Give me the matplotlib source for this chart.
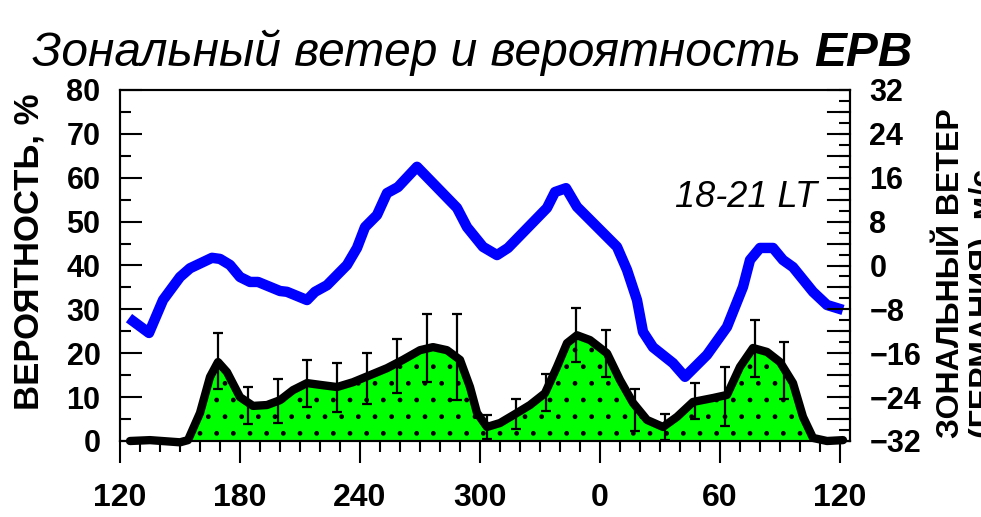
import numpy as np
import matplotlib
matplotlib.use("Agg")
import matplotlib.pyplot as plt
from matplotlib.ticker import MultipleLocator

plt.rcParams['font.family'] = ['Liberation Sans', 'DejaVu Sans']
plt.rcParams['hatch.linewidth'] = 1.0

# zonal wind (right axis), longitude in degrees (120..480 = 120E around to 120E)
wind_lon = [124.5, 134.5, 141.5, 150, 155, 166, 170, 175, 180, 185, 189, 200, 203.5,
            213.5, 217.5, 223.5, 233.5, 238.5, 242.5, 248.5, 253.5, 259, 268.5, 276.5,
            288.5, 293.5, 301.5, 308.5, 314, 333.5, 337.5, 343, 348.5, 368.5, 373.5,
            378.5, 381.5, 386.5, 396.5, 402.5, 413.5, 423.5, 431.5, 435, 440, 446.5,
            451.5, 456.5, 466.5, 473.5, 481.5]
wind = [-9.6, -12.3, -6.3, -2.1, -0.5, 1.4, 1.2, 0.1, -2.1, -3.0, -3.0, -4.65, -4.8,
        -6.3, -4.8, -3.6, 0.1, 3.2, 7.0, 9.2, 13.2, 14.3, 18.0, 15.0,
        10.5, 7.0, 3.4, 1.9, 3.2, 10.5, 13.4, 14.1, 10.7, 3.4, -0.8,
        -6.3, -12.1, -14.9, -17.8, -20.3, -16.3, -11.2, -3.9, 1.0, 3.2, 3.2,
        1.0, -0.3, -4.8, -7.2, -8.1]

# EPB probability (left axis, %)
prob_lon = [125, 135, 150, 154, 160, 165, 169, 173.5, 180, 186.5, 193.5, 200, 206.5,
            213.5, 220, 228.5, 236.5, 245, 253.5, 261.5, 270, 276.5, 283.5, 290, 295,
            298.5, 303.5, 310, 318.5, 325, 332.5, 338.5, 343.5, 348.5, 355, 363.5, 370,
            376.5, 383.5, 391.5, 398.5, 406.5, 416.5, 423.5, 430, 436.5, 443.5, 450,
            456.5, 461.5, 466.5, 473.5, 481.5]
prob = [0, 0.2, -0.3, 0.2, 6.4, 14.6, 18.0, 15.7, 10.0, 8.0, 8.2, 9.3, 11.6,
        13.2, 12.8, 12.3, 13.4, 15.0, 16.6, 18.5, 20.7, 21.4, 20.7, 18.5, 12.3,
        6.4, 3.2, 4.1, 6.4, 8.2, 10.9, 16.9, 22.3, 24.1, 23.0, 20.0, 13.9,
        8.7, 4.8, 3.2, 5.5, 8.9, 9.8, 10.5, 16.9, 21.2, 20.3, 18.0,
        13.2, 5.5, 0.7, 0, 0.2]

# error bars
err_lon = [169, 184, 199, 213.5, 228.5, 243.5, 258.5, 273.5, 288.5, 303.5,
           318, 333, 348, 363, 377.5, 392.5, 407.5, 422.5, 437.5, 452]
err_mid = [18.2, 8.1, 9.1, 13.1, 12.2, 14.2, 17.1, 21.2, 19.1, 3.2,
           6.2, 11.0, 24.1, 20.0, 7.1, 3.2, 9.1, 10.1, 21.1, 16.1]
err_size = [6.4, 4.2, 5.0, 5.4, 5.6, 5.8, 6.2, 7.8, 9.8, 2.7,
            3.4, 4.2, 6.1, 5.4, 4.8, 3.0, 4.1, 6.7, 6.5, 6.5]

xticks = [120, 180, 240, 300, 360, 420, 480]
xlabels = ['120', '180', '240', '300', '0', '60', '120']

fig = plt.figure(figsize=(9.81, 5.17), dpi=100)
ax = fig.add_axes([120/981, 76/517, 730/981, 351/517])
ax2 = ax.twinx()

# probability: green dotted fill, error bars, thick black curve
p = np.array(prob)
ax.fill_between(prob_lon, 0, np.clip(p, 0, None), facecolor='#00ff00',
                edgecolor='black', hatch='.', linewidth=0, zorder=1)
ax.errorbar(err_lon, err_mid, yerr=err_size, fmt='none', ecolor='black',
            elinewidth=1.6, capsize=3.5, capthick=1.6, zorder=2)
ax.plot(prob_lon, prob, color='black', lw=6, solid_joinstyle='round',
        solid_capstyle='round', zorder=3, clip_on=False)

ax2.plot(wind_lon, wind, color='#0000ff', lw=7.5, solid_joinstyle='round',
         solid_capstyle='butt')

ax.set_xlim(120, 485)
ax.set_ylim(0, 80)
ax2.set_ylim(-32, 32)

ax.set_xticks(xticks)
ax.set_xticklabels(xlabels)
ax.xaxis.set_minor_locator(MultipleLocator(10))
ax.yaxis.set_major_locator(MultipleLocator(10))
ax.yaxis.set_minor_locator(MultipleLocator(5))
ax2.yaxis.set_major_locator(MultipleLocator(8))
ax2.yaxis.set_minor_locator(MultipleLocator(2))

ax.tick_params(axis='x', which='major', direction='out', length=16, width=1.5,
               pad=14, labelsize=23)
ax.tick_params(axis='x', which='minor', direction='out', length=8, width=1.5)
ax.tick_params(axis='y', which='major', direction='in', length=16, width=1.5,
               pad=14, labelsize=22)
ax.tick_params(axis='y', which='minor', direction='in', length=8, width=1.5)
ax2.tick_params(axis='y', which='major', direction='in', length=8, width=1.5,
                pad=14, labelsize=22)
ax2.tick_params(axis='y', which='minor', direction='in', length=8, width=1.5)
# long ticks every 4 on the wind axis (labels only every 8)
for v in range(-32, 33, 4):
    ax2.plot([1.0, 1.0 - 22/730], [v, v], transform=ax2.get_yaxis_transform(),
             color='black', lw=1.5, clip_on=False)

for a in (ax, ax2):
    for s in a.spines.values():
        s.set_linewidth(1.5)
for lab in ax.get_xticklabels() + ax.get_yticklabels() + ax2.get_yticklabels():
    lab.set_fontweight('bold')

ax.text(0.955, 0.695, '18-21 LT', transform=ax.transAxes, ha='right', va='center',
        fontsize=26, style='italic')

fig.text(12/981, 1 - 252/517, 'ВЕРОЯТНОСТЬ, %', rotation=90, ha='left',
         va='center', fontsize=25, fontweight='bold')
fig.text(936/981, 1 - 273/517, 'ЗОНАЛЬНЫЙ ВЕТЕР\n(ГЕРМАНИЯ), м/с', rotation=90,
         ha='left', va='center', fontsize=23, fontweight='bold', linespacing=1.15)

# title: italic text followed by bold italic EPB
t1 = fig.text(32/981, 1 - 66/517, 'Зональный ветер и вероятность ', fontsize=34.5,
              style='italic', ha='left', va='baseline')
fig.canvas.draw()
bb = t1.get_window_extent()
fig.text(bb.x1/981, 1 - 66/517, 'EPB', fontsize=34.5, style='italic',
         fontweight='bold', ha='left', va='baseline')

fig.savefig('out.png', dpi=100)
